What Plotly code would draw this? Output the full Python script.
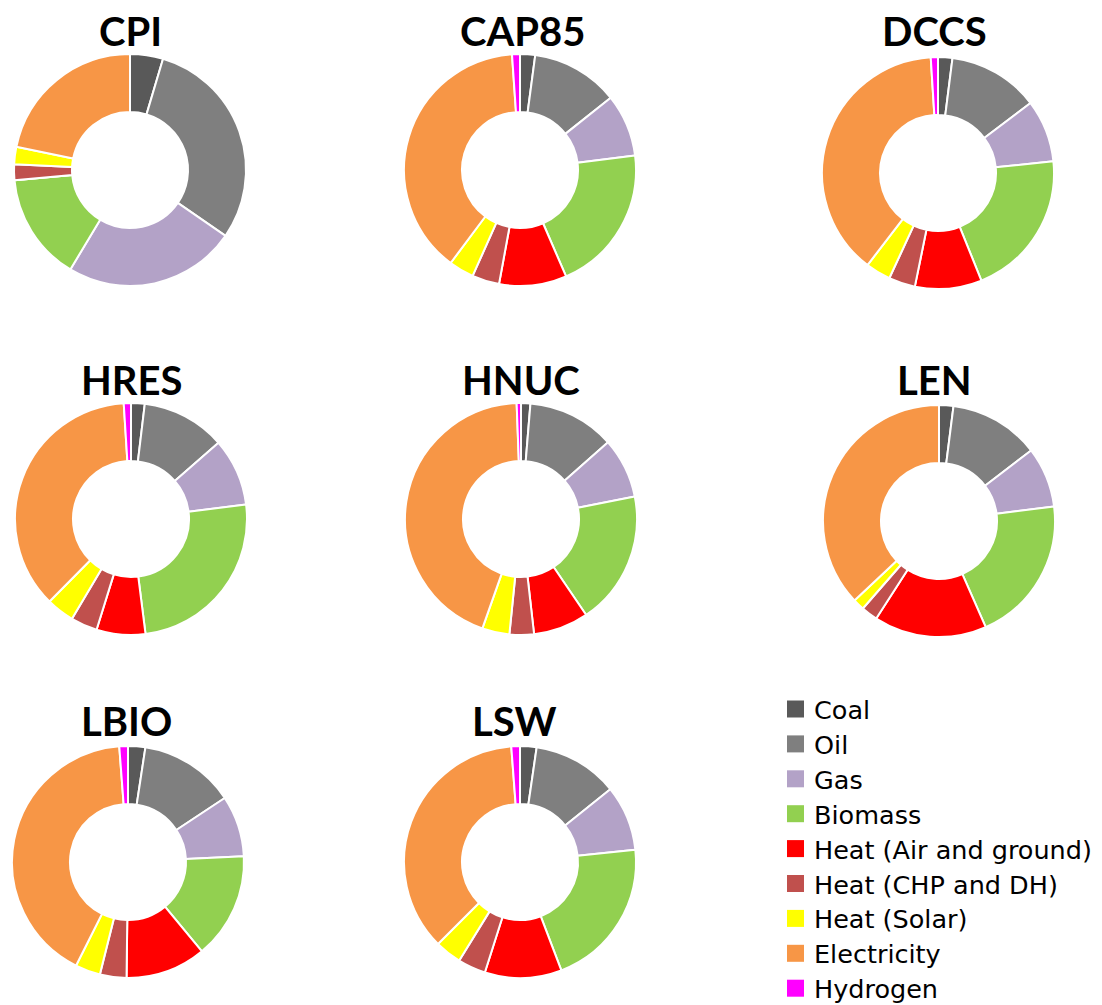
import plotly.graph_objects as go

W, H = 1102, 1005

labels = ["Coal", "Oil", "Gas", "Biomass", "Heat (Air and ground)",
          "Heat (CHP and DH)", "Heat (Solar)", "Electricity", "Hydrogen"]
colors = ["#595959", "#7f7f7f", "#b3a2c7", "#92d050", "#ff0000",
          "#c0504d", "#ffff00", "#f79646", "#ff00ff"]

scenarios = ["CPI", "CAP85", "DCCS", "HRES", "HNUC", "LEN", "LBIO", "LSW"]

CPI   = [4.6, 30.0, 24.0, 15.0, 0.0, 2.2, 2.4, 21.8, 0.0]
CAP85 = [2.1, 12.2, 8.7, 20.5, 9.4, 3.8, 3.5, 38.7, 1.1]
DCCS  = [2.0, 12.7, 8.7, 20.5, 9.3, 3.7, 3.5, 38.6, 1.0]
HRES  = [1.9, 11.7, 9.4, 25.0, 6.8, 3.7, 3.9, 36.6, 1.0]
HNUC  = [1.3, 12.2, 8.4, 18.6, 7.7, 3.4, 3.8, 44.0, 0.6]
LEN   = [2.0, 12.6, 8.4, 20.4, 15.7, 2.3, 1.6, 37.0, 0.0]
LBIO  = [2.4, 13.3, 8.5, 14.8, 11.2, 3.7, 3.5, 41.4, 1.2]
LSW   = [2.3, 11.9, 9.1, 20.9, 10.7, 3.9, 3.7, 36.3, 1.2]

values = [CPI, CAP85, DCCS, HRES, HNUC, LEN, LBIO, LSW]

# layout (pixel centres of each donut and title)
centers = [(130, 170), (520, 170), (938, 173),
           (131, 519), (521, 519), (939, 521),
           (128, 862), (520, 862)]
title_pos = [(130, 31), (522, 31), (934, 31),
             (131, 380), (521, 380), (934, 380),
             (126, 721), (514, 721)]
R = 116

legend_x, legend_y0, legend_dy = 787, 709, 34.9
sq = 17

def px(x):
    return x / W

def py(y):
    return 1 - y / H

fig = go.Figure()
for name, vals, (cx, cy) in zip(scenarios, values, centers):
    fig.add_trace(go.Pie(
        labels=labels, values=vals, name=name,
        sort=False, direction="clockwise", rotation=0,
        hole=0.5,
        marker=dict(colors=colors, line=dict(color="white", width=2)),
        textinfo="none", hoverinfo="label+value+name",
        showlegend=False,
        domain=dict(x=[px(cx - R), px(cx + R)], y=[py(cy + R), py(cy - R)]),
    ))

for name, (tx, ty) in zip(scenarios, title_pos):
    fig.add_annotation(
        x=px(tx), y=py(ty), xref="paper", yref="paper",
        text="<b>" + name + "</b>", showarrow=False,
        xanchor="center", yanchor="middle",
        font=dict(family="Lato, Open Sans, sans-serif", size=40, color="black"),
    )

# legend built from labels / colors
for i, (lab, col) in enumerate(zip(labels, colors)):
    yc = legend_y0 + i * legend_dy
    fig.add_shape(type="rect", xref="paper", yref="paper",
                  x0=px(legend_x), x1=px(legend_x + sq),
                  y0=py(yc + sq / 2), y1=py(yc - sq / 2),
                  fillcolor=col, line=dict(width=0))
    fig.add_annotation(
        x=px(legend_x + 25), y=py(yc + 1), xref="paper", yref="paper",
        text=lab, showarrow=False, xanchor="left", yanchor="middle",
        font=dict(family="DejaVu Sans, sans-serif", size=25.5, color="black"),
    )

fig.update_layout(
    width=W, height=H,
    margin=dict(l=0, r=0, t=0, b=0),
    paper_bgcolor="white", plot_bgcolor="white",
    showlegend=False,
)

fig.write_html("out.html", config={"displayModeBar": False},
               post_script="document.body.style.margin='0';")
